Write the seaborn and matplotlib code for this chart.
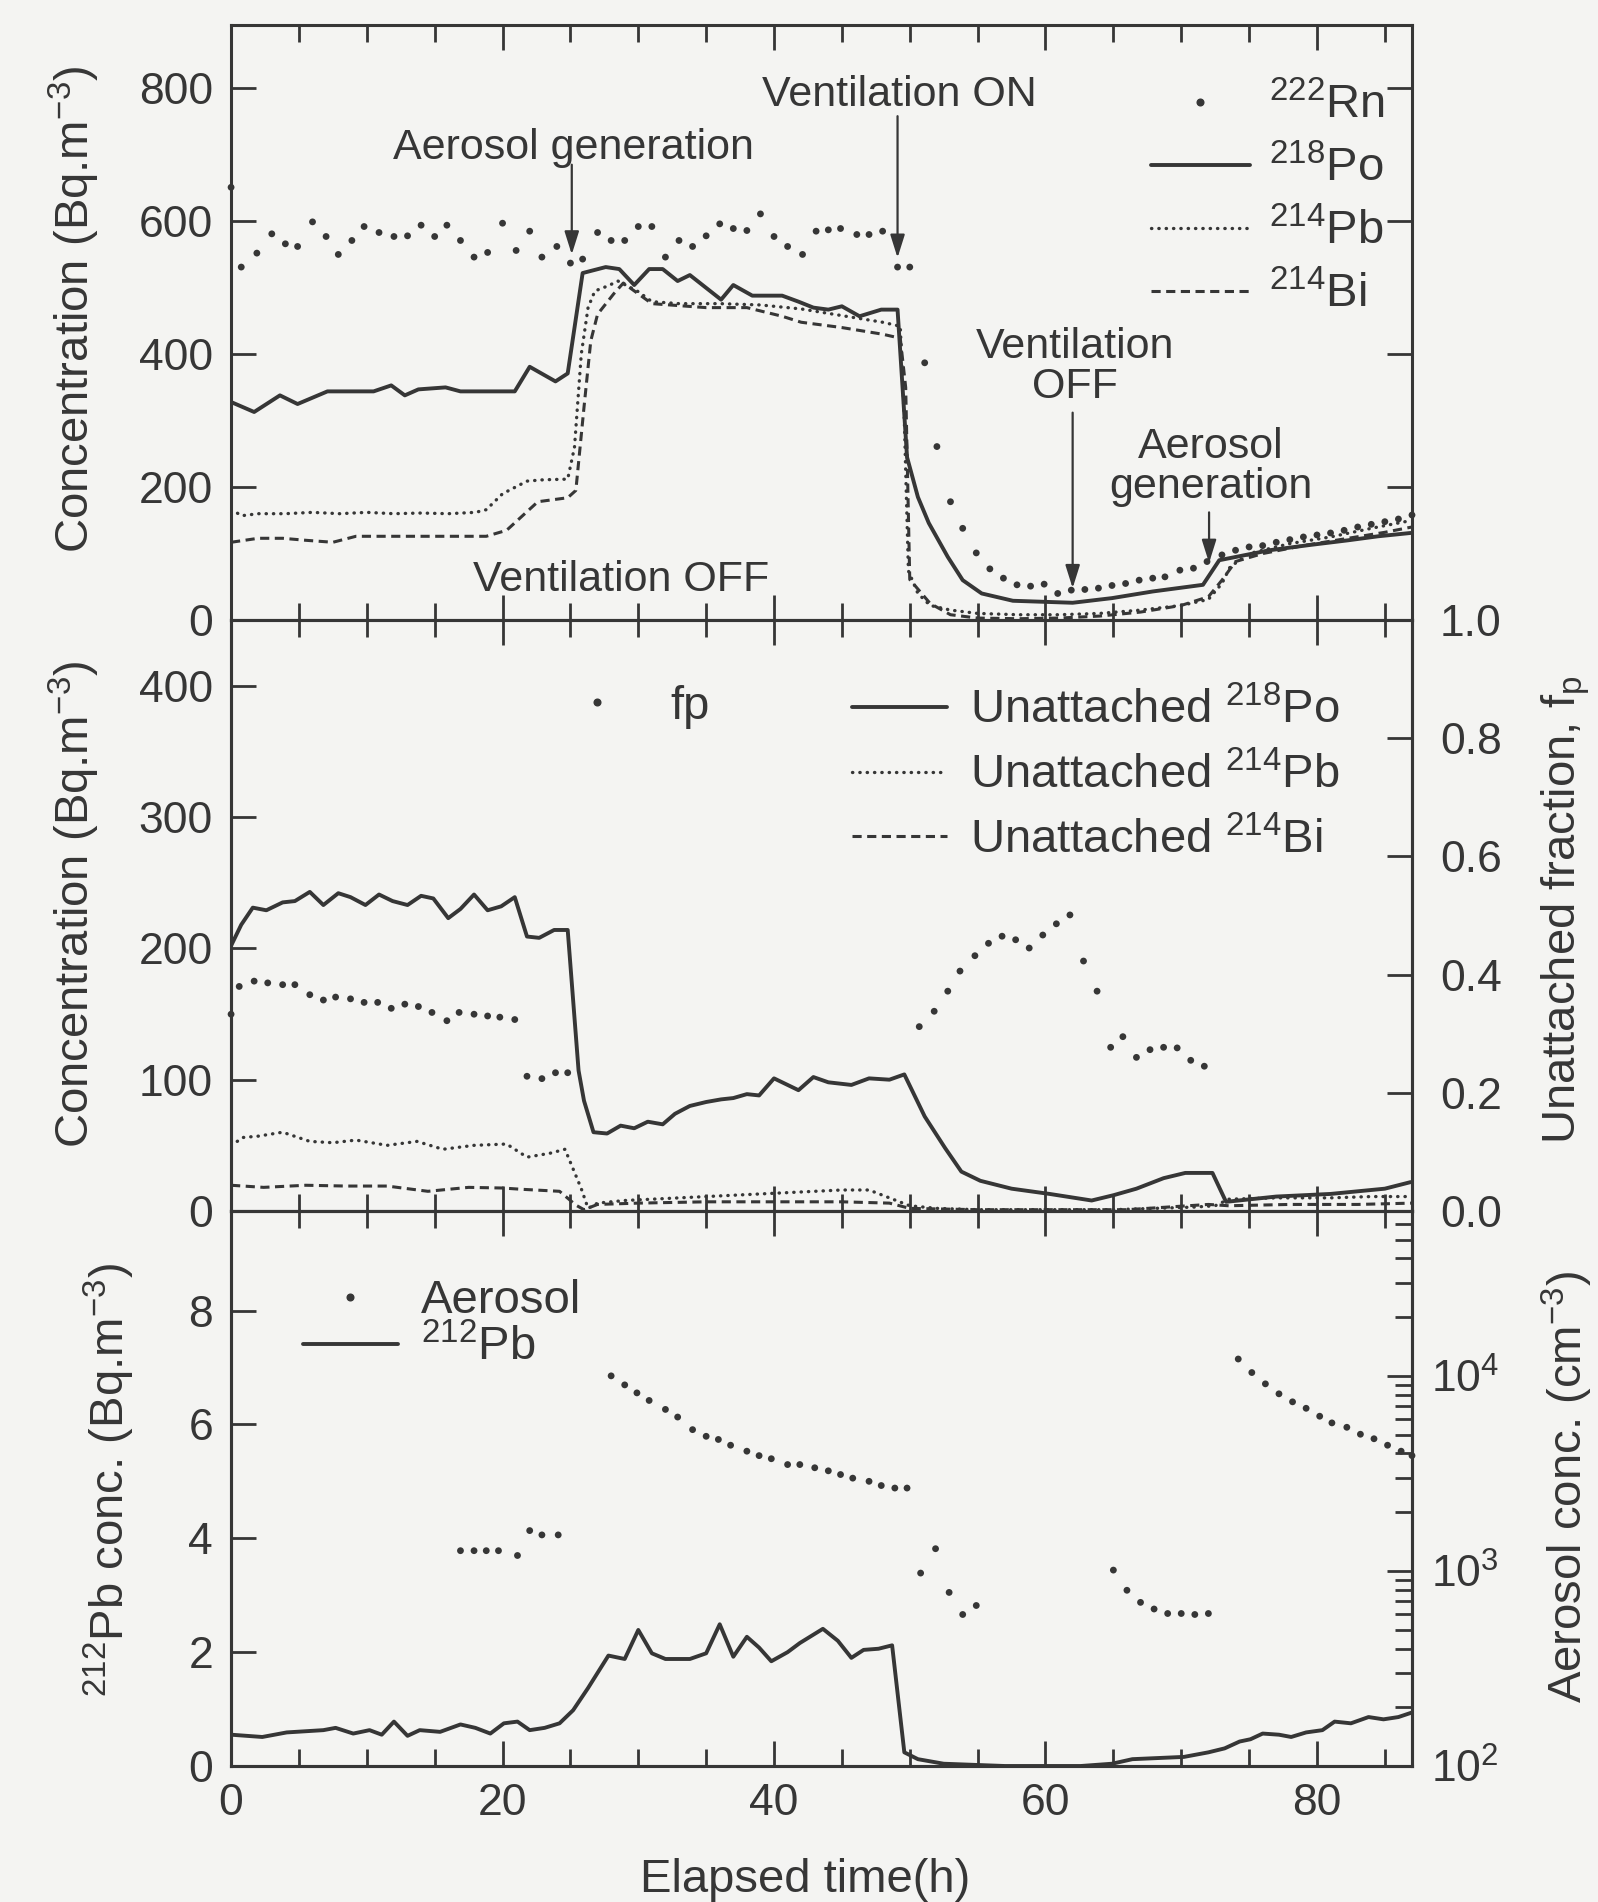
import matplotlib
matplotlib.use("Agg")
import numpy as np
import matplotlib.pyplot as plt
from matplotlib.lines import Line2D
from matplotlib.ticker import MultipleLocator, LogLocator, NullFormatter, FormatStrFormatter
import seaborn as sns

# ---------------- data ----------------
# Upper panel: radon and its short-lived progeny (Bq m^-3) vs elapsed time (h)
rn_t = [0.0, 0.75, 1.9, 3.0, 4.0, 4.9, 6.0, 7.0, 7.9, 8.9, 9.8, 10.9, 12.0, 13.0, 14.0, 15.0,
        15.9, 16.9, 17.9, 18.9, 20.0, 21.0, 22.0, 22.9, 24.0, 25.0, 25.9, 27.0, 28.0, 29.0,
        30.0, 31.0, 32.0, 33.0, 34.0, 35.0, 36.0, 37.0, 38.0, 39.0, 40.0, 41.0, 42.1, 43.1,
        44.0, 44.9, 46.1, 47.0, 48.0, 49.1, 50.0, 51.1, 52.0, 53.0, 53.9, 54.9, 55.9, 56.9,
        57.9, 58.9, 59.9, 60.9, 61.9, 62.9, 63.9, 64.9, 65.9, 66.9, 67.9, 68.8, 69.9, 70.9,
        71.9, 73.0, 74.0, 75.0, 76.0, 77.0, 78.0, 79.0, 80.0, 81.0, 82.0, 83.0, 84.0, 85.0,
        86.0, 87.0]
rn_222 = [651, 531, 552, 581, 566, 562, 599, 577, 550, 571, 592, 583, 577, 578, 594, 577,
          594, 571, 546, 553, 597, 556, 585, 546, 562, 537, 543, 583, 571, 571,
          592, 592, 546, 571, 562, 578, 596, 589, 586, 611, 577, 562, 550, 585,
          587, 589, 580, 580, 585, 531, 531, 387, 261, 178, 138, 101, 77, 63,
          53, 51, 54, 40, 45, 46, 48, 52, 55, 60, 63, 65, 75, 78,
          88, 98, 105, 110, 112, 117, 121, 125, 128, 131, 135, 140, 144, 148,
          152, 158]

po_t = [0.0, 1.7, 3.6, 4.9, 7.1, 10.5, 11.8, 12.8, 13.8, 15.8, 16.9, 20.9, 22.0, 23.9, 24.8,
        25.9, 27.6, 28.6, 29.7, 30.8, 31.8, 32.9, 33.8, 36.1, 37.0, 38.4, 40.6, 41.8, 42.9,
        44.0, 45.0, 46.3, 47.9, 49.1, 49.8, 50.6, 51.4, 52.8, 53.9, 55.3, 57.6, 62.0, 64.9,
        67.9, 71.6, 72.8, 76.5, 79.5, 82.3, 84.5, 86.9]
po_218 = [328, 313, 338, 325, 344, 344, 353, 338, 347, 350, 344, 344, 381, 359, 371,
          522, 531, 528, 504, 528, 528, 510, 519, 482, 504, 488, 488, 479, 470,
          467, 472, 457, 467, 467, 245, 185, 146, 95, 60, 40, 29, 26, 33,
          43, 53, 90, 105, 113, 120, 126, 131]

pb_t = [0.0, 0.8, 2.0, 4.0, 6.0, 8.0, 10.0, 12.0, 14.0, 16.0, 18.0, 18.8, 20.0, 21.8, 23.0,
        24.8, 25.3, 25.8, 26.3, 26.8, 27.8, 28.5, 30.0, 31.0, 33.0, 36.0, 39.0, 42.0, 45.0,
        48.0, 49.3, 49.6, 49.9, 50.6, 51.5, 53.0, 55.0, 58.0, 61.0, 64.0, 67.0, 70.0, 72.0,
        73.0, 73.6, 75.0, 78.0, 81.0, 84.0, 87.0]
pb_214 = [166, 157, 160, 160, 162, 160, 162, 160, 161, 160, 162, 166, 190, 209, 211,
          212, 260, 400, 470, 495, 503, 510, 494, 479, 476, 476, 474, 468, 458,
          448, 442, 300, 74, 40, 22, 15, 10, 8, 8, 10, 15, 22, 31,
          55, 80, 100, 115, 125, 138, 150]

bi_t = [0.0, 2.0, 3.8, 5.5, 7.5, 9.2, 12.0, 15.0, 18.8, 20.3, 22.6, 24.8, 25.4, 26.0, 26.5,
        27.0, 28.2, 28.9, 31.0, 35.0, 38.0, 40.6, 42.0, 45.0, 48.0, 49.3, 49.7, 50.0, 51.5,
        53.0, 55.0, 58.0, 61.0, 64.0, 67.0, 70.0, 72.0, 73.0, 74.0, 76.0, 79.0, 82.0, 85.0, 87.0]
bi_214 = [117, 123, 123, 120, 117, 126, 126, 126, 126, 135, 178, 184, 195, 320, 420,
          460, 491, 507, 476, 470, 470, 457, 448, 440, 430, 424, 350, 61, 25,
          8, 3, 2, 3, 6, 12, 22, 35, 60, 88, 100, 112, 122, 132, 140]

# Middle panel: unattached progeny (Bq m^-3) and unattached fraction fp
upo_t = [0.0, 0.75, 1.6, 2.6, 3.8, 4.7, 5.8, 6.8, 7.9, 8.8, 9.9, 10.9, 11.9, 13.0, 14.0,
         14.9, 16.0, 16.9, 17.9, 18.9, 19.9, 20.9, 21.8, 22.7, 23.8, 24.8, 25.6, 26.0, 26.7,
         27.7, 28.7, 29.7, 30.7, 31.8, 32.7, 33.8, 35.0, 36.1, 37.0, 38.0, 38.9, 40.0, 41.8,
         42.9, 44.0, 45.7, 47.0, 48.5, 49.6, 51.1, 52.6, 53.8, 55.2, 57.5, 60.3, 63.4, 65.0,
         66.7, 68.7, 70.3, 72.3, 73.3, 77.0, 81.0, 85.0, 86.9]
unatt_po = [202, 218, 231, 229, 235, 236, 243, 233, 242, 239, 233, 241, 236, 233, 240,
            238, 223, 230, 241, 229, 232, 239, 209, 208, 214, 214, 107, 84, 60,
            59, 65, 63, 68, 66, 74, 80, 83, 85, 86, 89, 88, 101, 92,
            102, 98, 96, 101, 100, 104, 72, 48, 30, 23, 17, 13, 8, 12,
            17, 25, 29, 29, 7, 11, 13, 17, 22]

upb_t = [0.0, 0.9, 2.0, 3.8, 5.8, 7.5, 9.2, 11.5, 13.7, 15.6, 17.9, 20.3, 21.8, 23.5, 24.6,
         25.8, 26.3, 27.0, 29.0, 31.0, 33.0, 35.0, 37.0, 39.0, 41.0, 43.0, 45.0, 47.0, 48.5,
         50.0, 52.0, 55.0, 60.0, 65.0, 68.0, 71.0, 72.5, 73.5, 77.0, 81.0, 84.0, 87.0]
unatt_pb = [50, 56, 57, 60, 53, 52, 54, 50, 53, 47, 50, 51, 41, 44, 47,
            17, 2, 6, 8, 9, 10, 11, 12, 13, 14, 15, 16, 16, 10,
            4, 2, 1, 1, 1, 2, 3, 4, 9, 10, 10, 11, 11]

ubi_t = [0.0, 2.4, 5.5, 8.5, 11.5, 14.5, 17.5, 20.0, 21.3, 24.2, 25.4, 26.0, 27.0, 30.0,
         35.0, 40.0, 45.0, 48.5, 50.0, 55.0, 60.0, 66.0, 69.0, 72.0, 73.5, 78.0, 83.0, 87.0]
unatt_bi = [19.6, 18, 19.6, 19, 19, 15, 18, 17.5, 16.6, 15, 4.5, 1, 5, 6,
            7, 7, 7, 6, 2, 1, 1, 1, 3, 5, 4, 5, 5, 6]

fp_t = [0.0, 0.6, 1.7, 2.7, 3.8, 4.7, 5.8, 6.8, 7.7, 8.8, 9.8, 10.8, 11.8, 12.8, 13.8,
        14.8, 15.9, 16.8, 17.9, 18.9, 19.8, 20.9, 21.8, 22.9, 23.9, 24.8,
        50.7, 51.8, 52.8, 53.7, 54.8, 55.8, 56.8, 57.8, 58.8, 59.8, 60.8, 61.8, 62.8,
        63.8, 64.8, 65.7, 66.7, 67.7, 68.7, 69.7, 70.7, 71.7]
fp = [0.333, 0.380, 0.389, 0.386, 0.383, 0.383, 0.366, 0.357, 0.362, 0.359, 0.353, 0.353,
      0.343, 0.350, 0.346, 0.336, 0.322, 0.336, 0.333, 0.330, 0.328, 0.324, 0.228, 0.224,
      0.234, 0.234,
      0.312, 0.338, 0.372, 0.406, 0.432, 0.453, 0.465, 0.459, 0.445, 0.467, 0.486, 0.501,
      0.423, 0.372, 0.277, 0.295, 0.260, 0.273, 0.277, 0.276, 0.255, 0.245]

# Lower panel: thoron progeny 212Pb (Bq m^-3) and aerosol number concentration (cm^-3)
pb212_t = [0.0, 2.3, 4.1, 6.8, 7.7, 9.0, 10.2, 11.1, 12.0, 13.0, 13.9, 15.4, 16.9, 18.0,
           19.1, 20.1, 21.1, 22.0, 23.1, 24.2, 25.2, 26.3, 27.8, 29.0, 30.0, 31.0, 32.0,
           33.8, 35.0, 36.0, 37.0, 38.0, 38.9, 39.8, 41.0, 41.9, 43.6, 44.7, 45.7, 46.6,
           47.7, 48.7, 49.6, 50.6, 52.5, 57.0, 62.6, 64.9, 66.4, 70.2, 72.0, 73.2, 74.3,
           75.1, 76.0, 77.2, 78.1, 79.2, 80.4, 81.3, 82.5, 83.8, 84.9, 86.0, 87.0]
pb_212 = [0.55, 0.51, 0.59, 0.63, 0.67, 0.57, 0.63, 0.55, 0.78, 0.53, 0.63, 0.60, 0.73, 0.67,
          0.57, 0.75, 0.78, 0.63, 0.67, 0.75, 0.98, 1.37, 1.94, 1.88, 2.39, 1.98, 1.88,
          1.88, 1.98, 2.49, 1.92, 2.27, 2.08, 1.84, 2.00, 2.16, 2.41, 2.20, 1.90, 2.04,
          2.06, 2.12, 0.24, 0.12, 0.04, 0.0, 0.0, 0.04, 0.12, 0.16, 0.24, 0.31, 0.43,
          0.47, 0.57, 0.55, 0.51, 0.59, 0.63, 0.78, 0.75, 0.86, 0.82, 0.86, 0.94]

aer_t = [16.9, 17.9, 18.8, 19.7, 21.1, 22.0, 22.9, 24.1,
         28.0, 29.0, 29.9, 30.8, 32.0, 32.9, 34.0, 35.0, 35.9, 36.8, 38.0, 38.9, 39.8,
         41.0, 41.9, 43.0, 44.0, 44.9, 45.8, 47.0, 47.9, 48.9, 49.8,
         50.8, 51.9, 52.9, 53.9, 54.9,
         65.0, 66.0, 67.0, 68.0, 69.0, 70.0, 71.0, 72.0,
         74.2, 75.2, 76.2, 77.2, 78.2, 79.2, 80.2, 81.1, 82.2, 83.2, 84.2, 85.2, 86.2, 87.0]
aerosol = [1270, 1270, 1270, 1270, 1200, 1610, 1530, 1530,
           10000, 8990, 8180, 7480, 6730, 6150, 5300, 4900, 4720, 4410, 4110, 3900, 3760,
           3510, 3510, 3380, 3260, 3120, 2990, 2880, 2740, 2660, 2660,
           975, 1300, 776, 598, 665,
           1010, 796, 690, 638, 605, 605, 598, 605,
           12200, 10400, 9100, 8090, 7360, 6820, 6210, 5740, 5450, 5020, 4760, 4410, 4110, 3900]

# ---------------- style ----------------
INK = "#363636"
BG = "#f4f4f2"
DOTTED = (0, (0.1, 2.1))
DASHED = (0, (3.0, 1.8))

sns.set_theme(style="ticks")
plt.rcParams["font.family"] = ["Liberation Sans", "DejaVu Sans"]
plt.rcParams["mathtext.fontset"] = "custom"
plt.rcParams["mathtext.rm"] = "Liberation Sans"
plt.rcParams["mathtext.it"] = "Liberation Sans:italic"
plt.rcParams["mathtext.bf"] = "Liberation Sans:bold"
plt.rcParams["mathtext.default"] = "regular"
plt.rcParams["text.color"] = INK
plt.rcParams["axes.labelcolor"] = INK

TICK_FS = 32
LABEL_FS = 34
LEG_FS = 34
NOTE_FS = 31
DOT_S = 24

fig = plt.figure(figsize=(15.98, 19.02), dpi=100, facecolor=BG)
L, W = 0.1446, 0.7390
ax1 = fig.add_axes([L, 0.6740, W, 0.3128])
ax2 = fig.add_axes([L, 0.3633, W, 0.3107])
ax3 = fig.add_axes([L, 0.0715, W, 0.2918])
ax2r = ax2.twinx()
ax3r = ax3.twinx()


def style(ax, ypad=13):
    ax.set_facecolor(BG)
    for s in ax.spines.values():
        s.set_linewidth(2.2)
        s.set_color(INK)
    ax.tick_params(axis="both", which="major", direction="in", length=18, width=2.0,
                   colors=INK, labelsize=TICK_FS)
    ax.tick_params(axis="both", which="minor", direction="in", length=12, width=2.0,
                   colors=INK)
    ax.tick_params(axis="y", which="both", pad=ypad)
    ax.tick_params(axis="x", which="both", top=True, bottom=True, pad=12)
    ax.set_xlim(0, 87)
    ax.xaxis.set_major_locator(MultipleLocator(20))
    ax.xaxis.set_minor_locator(MultipleLocator(5))


for a in (ax1, ax2, ax3):
    style(a)
for a in (ax2r, ax3r):
    for s in a.spines.values():
        s.set_linewidth(2.2)
        s.set_color(INK)
    a.tick_params(axis="y", which="major", direction="in", length=18, width=2.0,
                  colors=INK, labelsize=TICK_FS, pad=20)
    a.tick_params(axis="y", which="minor", direction="in", length=12, width=2.0, colors=INK)

ax1.tick_params(axis="x", labelbottom=False)
ax2.tick_params(axis="x", labelbottom=False)
ax1.tick_params(axis="y", right=True)

# ---------------- upper panel ----------------
sns.lineplot(x=po_t, y=po_218, ax=ax1, color=INK, linewidth=2.8, errorbar=None, legend=False)
sns.lineplot(x=pb_t, y=pb_214, ax=ax1, color=INK, linewidth=2.4, linestyle=DOTTED,
             dash_capstyle="round", errorbar=None, legend=False)
sns.lineplot(x=bi_t, y=bi_214, ax=ax1, color=INK, linewidth=2.2, linestyle=DASHED,
             errorbar=None, legend=False)
sns.scatterplot(x=rn_t, y=rn_222, ax=ax1, s=DOT_S, color=INK, edgecolor="none",
                legend=False, clip_on=False, zorder=4)
ax1.set_ylim(0, 895)
ax1.yaxis.set_major_locator(MultipleLocator(200))
ax1.set_ylabel(r"Concentration (Bq.m$^{-3}$)", fontsize=LABEL_FS)
ax1.yaxis.set_label_coords(-0.109, 0.523)

arrow = dict(arrowstyle="-|>,head_length=0.7,head_width=0.22", lw=1.6, color=INK,
             mutation_scale=20, shrinkA=0, shrinkB=0)
ax1.text(25.2, 710, "Aerosol generation", ha="center", va="center", fontsize=NOTE_FS)
ax1.annotate("", xy=(25.1, 550), xytext=(25.1, 685), arrowprops=arrow)
ax1.text(49.2, 790, "Ventilation ON", ha="center", va="center", fontsize=NOTE_FS)
ax1.annotate("", xy=(49.1, 545), xytext=(49.1, 758), arrowprops=arrow)
ax1.text(62.2, 380, "Ventilation\nOFF", ha="center", va="center", fontsize=NOTE_FS,
         linespacing=1.0, multialignment="center")
ax1.annotate("", xy=(62.0, 48), xytext=(62.0, 312), arrowprops=arrow)
ax1.text(72.2, 230, "Aerosol\ngeneration", ha="center", va="center", fontsize=NOTE_FS,
         linespacing=1.0, multialignment="center")
ax1.annotate("", xy=(72.05, 86), xytext=(72.05, 162), arrowprops=arrow)
ax1.text(28.7, 60, "Ventilation OFF", ha="center", va="center", fontsize=NOTE_FS)

h_dot = Line2D([], [], color=INK, marker="o", markersize=4.8, linestyle="none")
h_solid = Line2D([], [], color=INK, linewidth=2.8)
h_dotted = Line2D([], [], color=INK, linewidth=2.4, linestyle=DOTTED, dash_capstyle="round")
h_dashed = Line2D([], [], color=INK, linewidth=2.2, linestyle=DASHED)

ax1.legend([h_dot, h_solid, h_dotted, h_dashed],
           [r"$^{222}$Rn", r"$^{218}$Po", r"$^{214}$Pb", r"$^{214}$Bi"],
           loc="upper right", bbox_to_anchor=(0.977, 0.902), frameon=False,
           fontsize=LEG_FS, handlelength=2.1, handletextpad=0.4, labelspacing=0.38,
           borderpad=0, borderaxespad=0, numpoints=1)

# ---------------- middle panel ----------------
sns.lineplot(x=upo_t, y=unatt_po, ax=ax2, color=INK, linewidth=2.8, errorbar=None, legend=False)
sns.lineplot(x=upb_t, y=unatt_pb, ax=ax2, color=INK, linewidth=2.4, linestyle=DOTTED,
             dash_capstyle="round", errorbar=None, legend=False)
sns.lineplot(x=ubi_t, y=unatt_bi, ax=ax2, color=INK, linewidth=2.2, linestyle=DASHED,
             errorbar=None, legend=False)
ax2.set_ylim(0, 450)
ax2.yaxis.set_major_locator(MultipleLocator(100))
ax2.set_ylabel(r"Concentration (Bq.m$^{-3}$)", fontsize=LABEL_FS)
ax2.yaxis.set_label_coords(-0.109, 0.519)

sns.scatterplot(x=fp_t, y=fp, ax=ax2r, s=DOT_S, color=INK, edgecolor="none",
                legend=False, clip_on=False, zorder=4)
ax2r.set_ylim(0, 1.0)
ax2r.yaxis.set_major_locator(MultipleLocator(0.2))
ax2r.yaxis.set_major_formatter(FormatStrFormatter("%.1f"))
ax2r.set_ylabel(r"Unattached fraction, f$_p$", fontsize=LABEL_FS)
ax2r.yaxis.set_label_coords(1.108, 0.509)

leg_fp = ax2r.legend([h_dot], ["fp"], loc="center left", bbox_to_anchor=(0.268, 0.853),
                     frameon=False, fontsize=LEG_FS, handlelength=2.1, handletextpad=0.5,
                     borderpad=0, borderaxespad=0, numpoints=1)
ax2r.add_artist(leg_fp)
ax2r.legend([h_solid, h_dotted, h_dashed],
            [r"Unattached $^{218}$Po", r"Unattached $^{214}$Pb", r"Unattached $^{214}$Bi"],
            loc="upper right", bbox_to_anchor=(0.939, 0.885), frameon=False,
            fontsize=LEG_FS, handlelength=2.0, handletextpad=0.5, labelspacing=0.42,
            borderpad=0, borderaxespad=0)

# ---------------- lower panel ----------------
sns.lineplot(x=pb212_t, y=pb_212, ax=ax3, color=INK, linewidth=2.8, errorbar=None, legend=False)
ax3.set_ylim(0, 9.75)
ax3.yaxis.set_major_locator(MultipleLocator(2))
ax3.set_ylabel(r"$^{212}$Pb conc. (Bq.m$^{-3}$)", fontsize=LABEL_FS)
ax3.yaxis.set_label_coords(-0.080, 0.515)
ax3.set_xlabel("Elapsed time(h)", fontsize=LABEL_FS)
ax3.xaxis.set_label_coords(0.486, -0.165)

sns.scatterplot(x=aer_t, y=aerosol, ax=ax3r, s=DOT_S, color=INK, edgecolor="none",
                legend=False, clip_on=False, zorder=4)
ax3r.set_yscale("log")
ax3r.set_ylim(100, 7.0e4)
ax3r.yaxis.set_major_locator(LogLocator(base=10, numticks=10))
ax3r.yaxis.set_minor_locator(LogLocator(base=10, subs=np.arange(2, 10), numticks=20))
ax3r.yaxis.set_minor_formatter(NullFormatter())
ax3r.tick_params(axis="y", which="major", pad=14)
ax3r.set_ylabel(r"Aerosol conc. (cm$^{-3}$)", fontsize=LABEL_FS)
ax3r.yaxis.set_label_coords(1.108, 0.503)

ax3r.legend([h_dot, h_solid], ["Aerosol", r"$^{212}$Pb"], loc="upper left",
            bbox_to_anchor=(0.061, 0.877), frameon=False, fontsize=LEG_FS,
            handlelength=2.0, handletextpad=0.5, labelspacing=0.05,
            borderpad=0, borderaxespad=0, numpoints=1)

fig.savefig("out.png", dpi=100, facecolor=BG)
